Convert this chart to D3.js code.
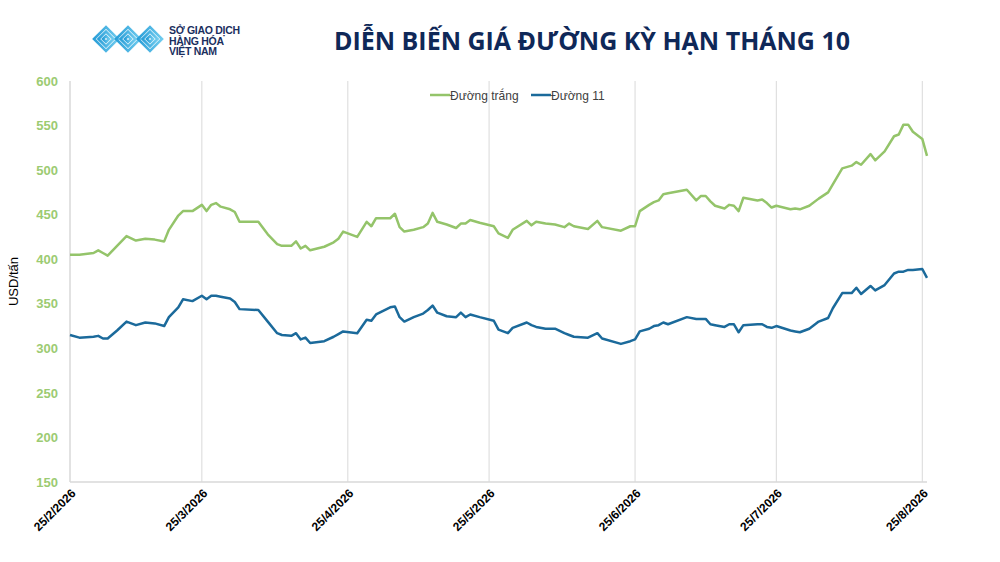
<!DOCTYPE html>
<html lang="vi">
	<head>
		<meta charset="utf-8">
		<title>dien bien gia duong ky han thang 10</title>
		<script type="text/javascript" src="https://cdn.jsdelivr.net/npm/d3@7"></script>
		<style type="text/css">
			body { margin: 0; background: #ffffff; }
			svg { display: block; }
		</style>
	</head>

	<body>
        <script type="text/javascript">

            // chart data
            var dates = [
                "2026-02-25","2026-02-27","2026-03-02","2026-03-03","2026-03-04","2026-03-05","2026-03-07","2026-03-09",
                "2026-03-11","2026-03-13","2026-03-15","2026-03-17","2026-03-18","2026-03-20","2026-03-21","2026-03-23",
                "2026-03-25","2026-03-26","2026-03-27","2026-03-28","2026-03-29","2026-03-31","2026-04-01","2026-04-02",
                "2026-04-06","2026-04-08","2026-04-10","2026-04-11","2026-04-13","2026-04-14","2026-04-15","2026-04-16",
                "2026-04-17","2026-04-20","2026-04-22","2026-04-23","2026-04-24","2026-04-27","2026-04-29","2026-04-30",
                "2026-05-01","2026-05-04","2026-05-05","2026-05-06","2026-05-07","2026-05-09","2026-05-11","2026-05-12",
                "2026-05-13","2026-05-14","2026-05-16","2026-05-18","2026-05-19","2026-05-20","2026-05-21","2026-05-23",
                "2026-05-26","2026-05-27","2026-05-29","2026-05-30","2026-06-02","2026-06-03","2026-06-04","2026-06-06",
                "2026-06-08","2026-06-10","2026-06-11","2026-06-12","2026-06-15","2026-06-17","2026-06-18","2026-06-22",
                "2026-06-24","2026-06-25","2026-06-26","2026-06-28","2026-06-29","2026-06-30","2026-07-01","2026-07-02",
                "2026-07-06","2026-07-08","2026-07-09","2026-07-10","2026-07-11","2026-07-12","2026-07-14","2026-07-15",
                "2026-07-16","2026-07-17","2026-07-18","2026-07-21","2026-07-22","2026-07-23","2026-07-24","2026-07-25",
                "2026-07-28","2026-07-29","2026-07-30","2026-08-01","2026-08-03","2026-08-05","2026-08-06","2026-08-08",
                "2026-08-10","2026-08-11","2026-08-12","2026-08-14","2026-08-15","2026-08-17","2026-08-19","2026-08-20",
                "2026-08-21","2026-08-22","2026-08-23","2026-08-25","2026-08-26"
            ];

            // duong trang (white sugar)
            var whiteSugar = [
                405,405,407,410,407,404,415,426, 421,423,422,420,433,449,454,454,
                461,454,461,463,459,456,453,442, 442,428,417,415,415,420,412,415,
                410,414,419,423,431,425,442,437, 446,446,451,436,431,433,436,440,
                452,442,439,435,440,440,444,441, 437,429,424,433,443,438,442,440,
                439,436,440,437,434,443,436,432, 437,437,454,461,464,466,473,474,
                478,466,471,471,465,460,457,461, 460,454,469,466,467,463,458,460,
                456,457,456,460,468,475,484,502, 505,509,506,518,511,521,538,540,
                551,551,543,535,516
            ];

            // duong 11 (raw sugar)
            var rawSugar = [
                315,312,313,314,311,311,320,330, 326,329,328,325,335,346,355,353,
                359,355,359,359,358,356,352,344, 343,330,317,315,314,317,310,312,
                306,308,313,316,319,317,332,331, 338,346,347,335,330,335,339,343,
                348,340,336,335,340,335,338,335, 331,321,317,323,329,326,324,322,
                322,317,315,313,312,317,311,305, 308,310,319,322,325,326,329,327,
                335,333,333,333,327,326,324,327, 327,318,326,327,327,324,323,325,
                320,319,318,322,330,334,345,362, 362,368,361,370,365,371,384,386,
                386,388,388,389,379
            ];

            var seriesNames = ["Đường trắng", "Đường 11"];
            var seriesColors = ["#94c46a", "#1b6a9b"];

            var tickDates = ["2026-02-25","2026-03-25","2026-04-25","2026-05-25","2026-06-25","2026-07-25","2026-08-25"];
            var yTicks = [150, 200, 250, 300, 350, 400, 450, 500, 550, 600];

            // chart width and height
            var w = 1000;
            var h = 562;
            var margin = {left: 70, right: 73, top: 81, bottom: 80};

            var parseDate = d3.timeParse("%Y-%m-%d");
            var formatTick = d3.timeFormat("%-d/%-m/%Y");

            var data = dates.map(function(d, i) {
                return {date: parseDate(d), white: whiteSugar[i], raw: rawSugar[i]};
            });

            var xScale = d3.scaleTime()
                .domain(d3.extent(data, function(d) { return d.date; }))
                .range([margin.left, w - margin.right]);

            var yScale = d3.scaleLinear()
                .domain([150, 600])
                .range([h - margin.bottom, margin.top]);

            var svg = d3.select("body")
                .append("svg")
                .attr("width", w)
                .attr("height", h)
                .style("font-family", "'Liberation Sans', Arial, sans-serif");

            // vertical grid at each month tick
            svg.append("g")
                .selectAll("line")
                .data(tickDates.slice(1))
                .enter()
                .append("line")
                .attr("x1", function(d) { return xScale(parseDate(d)); })
                .attr("x2", function(d) { return xScale(parseDate(d)); })
                .attr("y1", yScale(600))
                .attr("y2", yScale(150))
                .attr("stroke", "#d9d9d9")
                .attr("stroke-width", 1);

            // axis lines
            svg.append("line")
                .attr("x1", margin.left).attr("x2", margin.left)
                .attr("y1", yScale(600)).attr("y2", yScale(150))
                .attr("stroke", "#d9d9d9").attr("stroke-width", 1.5);
            svg.append("line")
                .attr("x1", margin.left).attr("x2", w - margin.right)
                .attr("y1", yScale(150)).attr("y2", yScale(150))
                .attr("stroke", "#d9d9d9").attr("stroke-width", 1.5);

            //define Y axis
            var yAxis = d3.axisLeft()
                .scale(yScale)
                .tickValues(yTicks)
                .tickSize(0)
                .tickPadding(12);

            var gy = svg.append("g")
                .attr("transform", "translate(" + margin.left + ",0)")
                .call(yAxis);
            gy.select(".domain").remove();
            gy.selectAll("text")
                .attr("fill", "#9ccb72")
                .style("font-size", "13px")
                .style("font-weight", "bold");

            //define X axis
            var xAxis = d3.axisBottom()
                .scale(xScale)
                .tickValues(tickDates.map(parseDate))
                .tickFormat(formatTick)
                .tickSize(0);

            var gx = svg.append("g")
                .attr("transform", "translate(0," + (h - margin.bottom) + ")")
                .call(xAxis);
            gx.select(".domain").remove();
            gx.selectAll("text")
                .attr("fill", "#000000")
                .attr("text-anchor", "end")
                .attr("dy", null)
                .attr("y", 0)
                .attr("transform", "translate(6,12) rotate(-45)")
                .style("font-size", "12px")
                .style("font-weight", "bold");

            // y axis title
            svg.append("text")
                .attr("transform", "translate(18," + yScale(375) + ") rotate(-90)")
                .attr("text-anchor", "middle")
                .style("font-size", "13px")
                .attr("fill", "#000000")
                .text("USD/tấn");

            // lines
            var keys = ["white", "raw"];
            keys.forEach(function(k, i) {
                var line = d3.line()
                    .x(function(d) { return xScale(d.date); })
                    .y(function(d) { return yScale(d[k]); });
                svg.append("path")
                    .datum(data)
                    .attr("d", line)
                    .attr("fill", "none")
                    .attr("stroke", seriesColors[i])
                    .attr("stroke-width", 2.5)
                    .attr("stroke-linejoin", "round");
            });

            // legend
            var legendX = [430, 531];
            var legend = svg.append("g");
            seriesNames.forEach(function(name, i) {
                legend.append("line")
                    .attr("x1", legendX[i]).attr("x2", legendX[i] + 20)
                    .attr("y1", 95).attr("y2", 95)
                    .attr("stroke", seriesColors[i])
                    .attr("stroke-width", 2.5);
                legend.append("text")
                    .attr("x", legendX[i] + 20)
                    .attr("y", 99.5)
                    .style("font-size", "12px")
                    .attr("fill", "#404040")
                    .text(name);
            });

            // title
            svg.append("text")
                .attr("x", 592)
                .attr("y", 50)
                .attr("text-anchor", "middle")
                .style("font-family", "'Open Sans', sans-serif")
                .style("font-size", "25px")
                .style("font-weight", "bold")
                .attr("fill", "#0f2858")
                .text("DIỄN BIẾN GIÁ ĐƯỜNG KỲ HẠN THÁNG 10");

            // logo mark: interlocking diamonds
            var logo = svg.append("g");
            var grad = svg.append("defs").append("linearGradient")
                .attr("id", "logoGrad")
                .attr("x1", "0%").attr("x2", "100%");
            grad.append("stop").attr("offset", "0%").attr("stop-color", "#2b9fd8");
            grad.append("stop").attr("offset", "100%").attr("stop-color", "#6fcbee");

            var logoCenters = [106, 128, 150];
            var logoSizes = [12, 7.5, 3];
            logoCenters.forEach(function(cx) {
                logoSizes.forEach(function(s) {
                    logo.append("path")
                        .attr("d", "M" + (cx - s) + ",39L" + cx + "," + (39 - s) + "L" + (cx + s) + ",39L" + cx + "," + (39 + s) + "Z")
                        .attr("fill", "none")
                        .attr("stroke", "url(#logoGrad)")
                        .attr("stroke-width", 2.6);
                });
            });

            var logoText = ["SỞ GIAO DỊCH", "HÀNG HÓA", "VIỆT NAM"];
            svg.append("g")
                .selectAll("text")
                .data(logoText)
                .enter()
                .append("text")
                .attr("x", 169)
                .attr("y", function(d, i) { return 34 + i * 10.5; })
                .style("font-size", "10.5px")
                .style("font-weight", "bold")
                .style("letter-spacing", "-0.3px")
                .attr("fill", "#1b2f5e")
                .text(function(d) { return d; });

        </script>
	</body>
</html>
